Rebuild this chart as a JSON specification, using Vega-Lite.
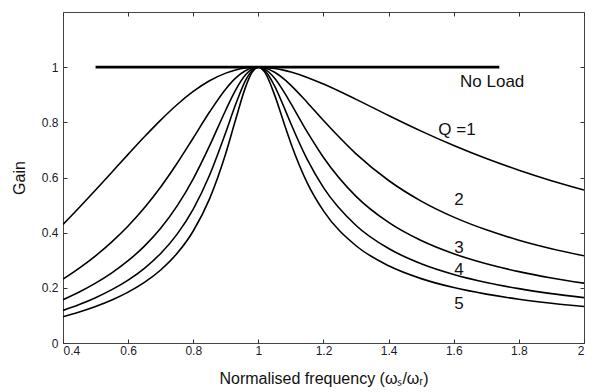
{
  "$schema": "https://vega.github.io/schema/vega-lite/v6.json",
  "autosize": "none",
  "width": 521,
  "height": 331,
  "padding": {"left": 63, "top": 12, "right": 9, "bottom": 49},
  "background": "white",
  "config": {
    "view": {"stroke": "#444", "strokeWidth": 1},
    "font": "Liberation Sans",
    "axis": {"grid": false, "domain": false, "tickColor": "#333", "tickSize": -4, "labelColor": "#1a1a2a", "labelFontSize": 12, "format": "~g", "titleFontWeight": "normal", "titleFontSize": 16, "titleColor": "#111"}
  },
  "datasets": {
    "curves": [
      {"f":0.4,"q":1,"g":0.4299},{"f":0.45,"q":1,"g":0.4914},{"f":0.5,"q":1,"g":0.5547},{"f":0.55,"q":1,"g":0.6192},{"f":0.6,"q":1,"g":0.6839},{"f":0.65,"q":1,"g":0.7476},{"f":0.7,"q":1,"g":0.8082},{"f":0.75,"q":1,"g":0.8638},{"f":0.8,"q":1,"g":0.9119},{"f":0.85,"q":1,"g":0.9506},{"f":0.9,"q":1,"g":0.9784},{"f":0.93,"q":1,"g":0.9896},{"f":0.96,"q":1,"g":0.9967},{"f":0.98,"q":1,"g":0.9992},{"f":1.0,"q":1,"g":1.0},{"f":1.02,"q":1,"g":0.9992},{"f":1.05,"q":1,"g":0.9953},{"f":1.08,"q":1,"g":0.9884},{"f":1.1,"q":1,"g":0.9823},{"f":1.15,"q":1,"g":0.9629},{"f":1.2,"q":1,"g":0.9389},{"f":1.3,"q":1,"g":0.8833},{"f":1.4,"q":1,"g":0.8247},{"f":1.5,"q":1,"g":0.7682},{"f":1.6,"q":1,"g":0.716},{"f":1.7,"q":1,"g":0.6687},{"f":1.8,"q":1,"g":0.6264},{"f":1.9,"q":1,"g":0.5885},{"f":2.0,"q":1,"g":0.5547},
      {"f":0.4,"q":2,"g":0.2316},{"f":0.45,"q":2,"g":0.2715},{"f":0.5,"q":2,"g":0.3162},{"f":0.55,"q":2,"g":0.3668},{"f":0.6,"q":2,"g":0.4244},{"f":0.65,"q":2,"g":0.4904},{"f":0.7,"q":2,"g":0.5658},{"f":0.75,"q":2,"g":0.6508},{"f":0.8,"q":2,"g":0.7433},{"f":0.85,"q":2,"g":0.8373},{"f":0.9,"q":2,"g":0.9212},{"f":0.93,"q":2,"g":0.9603},{"f":0.96,"q":2,"g":0.9869},{"f":0.98,"q":2,"g":0.9968},{"f":1.0,"q":2,"g":1.0},{"f":1.02,"q":2,"g":0.9969},{"f":1.05,"q":2,"g":0.9815},{"f":1.08,"q":2,"g":0.9557},{"f":1.1,"q":2,"g":0.9342},{"f":1.15,"q":2,"g":0.8722},{"f":1.2,"q":2,"g":0.8064},{"f":1.3,"q":2,"g":0.6857},{"f":1.4,"q":2,"g":0.5892},{"f":1.5,"q":2,"g":0.5145},{"f":1.6,"q":2,"g":0.4563},{"f":1.7,"q":2,"g":0.4102},{"f":1.8,"q":2,"g":0.3728},{"f":1.9,"q":2,"g":0.342},{"f":2.0,"q":2,"g":0.3162},
      {"f":0.4,"q":3,"g":0.1568},{"f":0.45,"q":3,"g":0.1848},{"f":0.5,"q":3,"g":0.2169},{"f":0.55,"q":3,"g":0.2542},{"f":0.6,"q":3,"g":0.2983},{"f":0.65,"q":3,"g":0.3513},{"f":0.7,"q":3,"g":0.416},{"f":0.75,"q":3,"g":0.4961},{"f":0.8,"q":3,"g":0.5952},{"f":0.85,"q":3,"g":0.7144},{"f":0.9,"q":3,"g":0.8448},{"f":0.93,"q":3,"g":0.9167},{"f":0.96,"q":3,"g":0.9713},{"f":0.98,"q":3,"g":0.9927},{"f":1.0,"q":3,"g":1.0},{"f":1.02,"q":3,"g":0.993},{"f":1.05,"q":3,"g":0.9597},{"f":1.08,"q":3,"g":0.9077},{"f":1.1,"q":3,"g":0.8678},{"f":1.15,"q":3,"g":0.7652},{"f":1.2,"q":3,"g":0.6727},{"f":1.3,"q":3,"g":0.5318},{"f":1.4,"q":3,"g":0.4372},{"f":1.5,"q":3,"g":0.3714},{"f":1.6,"q":3,"g":0.3235},{"f":1.7,"q":3,"g":0.2872},{"f":1.8,"q":3,"g":0.2587},{"f":1.9,"q":3,"g":0.2358},{"f":2.0,"q":3,"g":0.2169},
      {"f":0.4,"q":4,"g":0.1182},{"f":0.45,"q":4,"g":0.1397},{"f":0.5,"q":4,"g":0.1644},{"f":0.55,"q":4,"g":0.1934},{"f":0.6,"q":4,"g":0.2282},{"f":0.65,"q":4,"g":0.2709},{"f":0.7,"q":4,"g":0.3246},{"f":0.75,"q":4,"g":0.3939},{"f":0.8,"q":4,"g":0.4856},{"f":0.85,"q":4,"g":0.608},{"f":0.9,"q":4,"g":0.764},{"f":0.93,"q":4,"g":0.8646},{"f":0.96,"q":4,"g":0.9506},{"f":0.98,"q":4,"g":0.9872},{"f":1.0,"q":4,"g":1.0},{"f":1.02,"q":4,"g":0.9877},{"f":1.05,"q":4,"g":0.9315},{"f":1.08,"q":4,"g":0.8513},{"f":1.1,"q":4,"g":0.7948},{"f":1.15,"q":4,"g":0.6654},{"f":1.2,"q":4,"g":0.5633},{"f":1.3,"q":4,"g":0.4261},{"f":1.4,"q":4,"g":0.3425},{"f":1.5,"q":4,"g":0.2873},{"f":1.6,"q":4,"g":0.2484},{"f":1.7,"q":4,"g":0.2194},{"f":1.8,"q":4,"g":0.197},{"f":1.9,"q":4,"g":0.1791},{"f":2.0,"q":4,"g":0.1644},
      {"f":0.4,"q":5,"g":0.0948},{"f":0.45,"q":5,"g":0.1121},{"f":0.5,"q":5,"g":0.1322},{"f":0.55,"q":5,"g":0.1558},{"f":0.6,"q":5,"g":0.1843},{"f":0.65,"q":5,"g":0.2196},{"f":0.7,"q":5,"g":0.2647},{"f":0.75,"q":5,"g":0.3243},{"f":0.8,"q":5,"g":0.4061},{"f":0.85,"q":5,"g":0.5223},{"f":0.9,"q":5,"g":0.6877},{"f":0.93,"q":5,"g":0.8091},{"f":0.96,"q":5,"g":0.9258},{"f":0.98,"q":5,"g":0.9802},{"f":1.0,"q":5,"g":1.0},{"f":1.02,"q":5,"g":0.981},{"f":1.05,"q":5,"g":0.8987},{"f":1.08,"q":5,"g":0.7922},{"f":1.1,"q":5,"g":0.7234},{"f":1.15,"q":5,"g":0.5806},{"f":1.2,"q":5,"g":0.4789},{"f":1.3,"q":5,"g":0.3526},{"f":1.4,"q":5,"g":0.28},{"f":1.5,"q":5,"g":0.2334},{"f":1.6,"q":5,"g":0.2009},{"f":1.7,"q":5,"g":0.1771},{"f":1.8,"q":5,"g":0.1587},{"f":1.9,"q":5,"g":0.1441},{"f":2.0,"q":5,"g":0.1322}
    ],
    "noload": [{"f":0.5,"g":1},{"f":1.74,"g":1}],
    "labels": [
      {"f":1.718,"g":0.954,"t":"No Load"},
      {"f":1.61,"g":0.78,"t":"Q =1"},
      {"f":1.616,"g":0.526,"t":"2"},
      {"f":1.616,"g":0.352,"t":"3"},
      {"f":1.616,"g":0.272,"t":"4"},
      {"f":1.616,"g":0.147,"t":"5"}
    ]
  },
  "resolve": {"axis": {"x": "independent", "y": "independent"}},
  "layer": [
    {
      "data": {"name": "curves"},
      "mark": {"type": "line", "color": "black", "strokeWidth": 1.6, "interpolate": "monotone", "clip": true},
      "encoding": {
        "x": {"field": "f", "type": "quantitative", "scale": {"domain": [0.4, 2], "nice": false, "zero": false},
              "axis": {"orient": "bottom", "values": [0.4,0.6,0.8,1,1.2,1.4,1.6,1.8,2], "title": "Normalised frequency (ωₛ/ωᵣ)", "labelPadding": 6, "titlePadding": 14}},
        "y": {"field": "g", "type": "quantitative", "scale": {"domain": [0, 1.2], "nice": false},
              "axis": {"orient": "left", "values": [0,0.2,0.4,0.6,0.8,1], "title": "Gain", "labelPadding": 9, "titlePadding": 14}},
        "detail": {"field": "q", "type": "nominal"}
      }
    },
    {
      "data": {"name": "noload"},
      "mark": {"type": "line", "color": "black", "strokeWidth": 2.8},
      "encoding": {
        "x": {"field": "f", "type": "quantitative", "axis": {"orient": "top", "values": [0.4,0.6,0.8,1,1.2,1.4,1.6,1.8,2], "labels": false, "title": null}},
        "y": {"field": "g", "type": "quantitative", "axis": {"orient": "right", "values": [0,0.2,0.4,0.6,0.8,1], "labels": false, "title": null}}
      }
    },
    {
      "data": {"name": "labels"},
      "mark": {"type": "text", "fontSize": 17, "color": "#111", "align": "center", "baseline": "middle", "dy": 2},
      "encoding": {
        "x": {"field": "f", "type": "quantitative", "axis": null},
        "y": {"field": "g", "type": "quantitative", "axis": null},
        "text": {"field": "t"}
      }
    }
  ]
}
